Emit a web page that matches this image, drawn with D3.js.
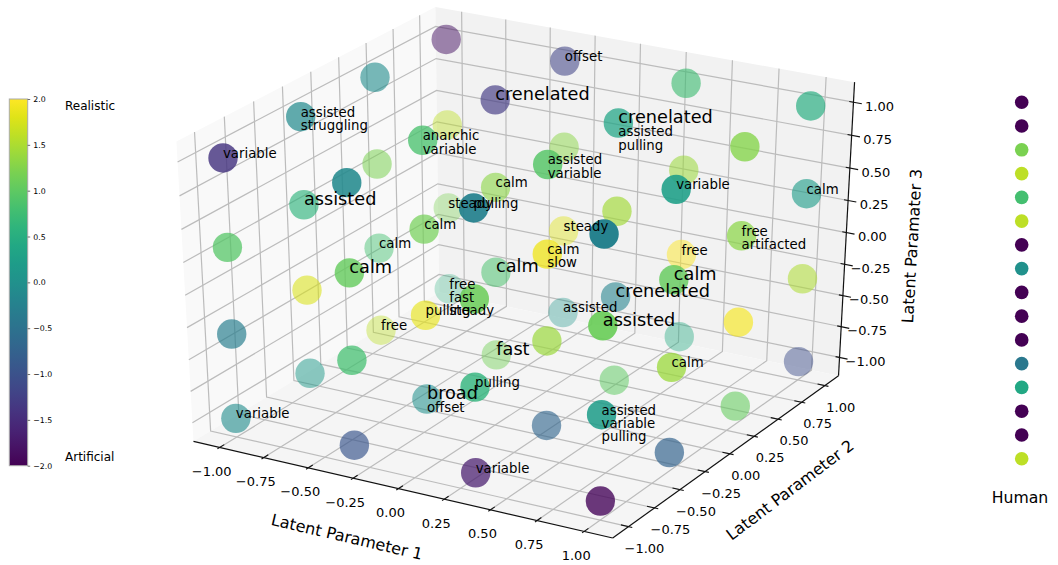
<!DOCTYPE html>
<html><head><meta charset="utf-8">
<script src="https://cdnjs.cloudflare.com/ajax/libs/d3/7.8.5/d3.min.js"></script>
<style>html,body{margin:0;padding:0;background:#fff}svg{display:block}text{font-family:"DejaVu Sans",sans-serif;fill:#000}</style>
</head><body><svg id="c" width="1058" height="565"></svg>
<script>
const levels = [-1, -0.333, 0.333, 1];
const axisTicks = [-1, -0.75, -0.5, -0.25, 0, 0.25, 0.5, 0.75, 1];
const colorbarTicks = [-2, -1.5, -1, -0.5, 0, 0.5, 1, 1.5, 2];
// realism[latent3 level][latent2 level][latent1 level]
const realism = [
  [[-0.05,-0.95,-1.7,-1.95],[0.15,0,-0.7,-0.75],[1.6,1.15,1.0,1.05],[0.55,0.1,0.45,-1.05]],
  [[-0.3,0.8,0.6,0.2],[1.75,1.85,1.4,1.4],[0.8,0.85,-0.2,1.95],[1.2,1.8,2.0,1.5]],
  [[0.95,1.05,1.1,1.1],[0.6,1.15,1.9,1.05],[1.2,1.3,1.45,1.3],[1.6,1.3,1.4,0.2]],
  [[-1.4,-0.1,-0.25,-0.25],[-0.1,0.85,0.95,0.25],[-0.05,-1.3,0.35,1.25],[-1.8,-1.2,0.75,0.5]]
];
// [latent1 level, latent2 level, latent3 level, text, large]
const annotations = [
  [0,1,3,"assisted\nstruggling",0],[0,0,3,"variable",0],[1,2,3,"crenelated",1],[1,1,3,"anarchic\nvariable",0],
  [0,1,2,"assisted",1],[1,2,2,"calm",0],[0,3,1,"steady",0],[2,0,3,"pulling",0],[1,1,2,"calm",0],[0,2,1,"calm",0],
  [1,0,2,"calm",1],[1,2,1,"calm",1],[1,3,3,"offset",0],[2,2,3,"crenelated",1],[2,2,3,"\nassisted\npulling",0],
  [2,1,3,"assisted\nvariable",0],[3,1,3,"variable",0],[3,3,2,"calm",0],[1,3,1,"steady",0],[3,2,2,"free\nartifacted",0],
  [2,1,2,"calm\nslow",0],[2,3,1,"free",0],[3,1,2,"calm",1],[0,3,0,"free\nfast\nsteady",0],[1,1,1,"pulling",0],
  [0,2,0,"free",0],[2,0,1,"pulling",0],[1,1,0,"broad",1],[1,1,0,"\noffset",0],[0,0,0,"variable",0],[2,0,0,"variable",0],
  [2,2,1,"crenelated",1],[1,3,0,"assisted",0],[3,0,2,"assisted",1],[3,1,1,"calm",0],[3,0,1,"assisted\nvariable\npulling",0],
  [1,2,0,"fast",1]
];
const humanRatings = [-2,-2,1.2,1.6,0.8,1.6,-2,0,-2,-2,-2,-0.4,0.4,-2,-2,1.6];
const axisTitles = ["Latent Parameter 1","Latent Parameter 2","Latent Paramater 3"];

const svg = d3.select("#c");
const color = d3.scaleSequential(d3.interpolateViridis).domain([-2,2]);
const LIM = 1.15;
const box = d3.scaleLinear().domain([-LIM,LIM]).range([-0.5,0.5]);
const sx = d3.scaleLinear().domain([-1,1]).range([521-483.9,521+483.9]);
const sy = d3.scaleLinear().domain([-1,1]).range([263.4+342.4,263.4-342.4]);
const el = 30*Math.PI/180, az = -60*Math.PI/180, DIST = 10;
const w = [Math.cos(el)*Math.cos(az),Math.cos(el)*Math.sin(az),Math.sin(el)];
const u = [-Math.sin(az),Math.cos(az),0];
const v = [w[1]*u[2]-w[2]*u[1],w[2]*u[0]-w[0]*u[2],w[0]*u[1]-w[1]*u[0]];
const dot=(a,b)=>a[0]*b[0]+a[1]*b[1]+a[2]*b[2];
function proj(x,y,z){
  const p=[box(x),box(y),box(z)], d=dot(p,w), f=DIST/(DIST-d);
  return {x:sx(dot(p,u)*f),y:sy(dot(p,v)*f),d};
}
const line=d3.line().x(d=>d.x).y(d=>d.y);
const path3=pts=>line(pts.map(p=>proj(...p)));

// panes
const g=svg.append("g");
const L=LIM;
g.append("path").attr("d",path3([[-L,-L,-L],[-L,L,-L],[-L,L,L],[-L,-L,L]])+"Z").attr("fill","#f9f9f9");
g.append("path").attr("d",path3([[-L,L,-L],[L,L,-L],[L,L,L],[-L,L,L]])+"Z").attr("fill","#f2f2f2");
g.append("path").attr("d",path3([[-L,-L,-L],[L,-L,-L],[L,L,-L],[-L,L,-L]])+"Z").attr("fill","#f5f5f5");
// grid
const gridPaths=[];
axisTicks.forEach(t=>{
  gridPaths.push([[t,-L,-L],[t,L,-L],[t,L,L]]);
  gridPaths.push([[-L,t,L],[-L,t,-L],[L,t,-L]]);
  gridPaths.push([[-L,-L,t],[-L,L,t],[L,L,t]]);
});
g.selectAll("path.grid").data(gridPaths).join("path").attr("class","grid")
 .attr("d",path3).attr("fill","none").attr("stroke","#bcbcbc").attr("stroke-width",1.2);
// axes
[[[-L,-L,-L],[L,-L,-L]],[[L,-L,-L],[L,L,-L]],[[L,L,-L],[L,L,L]]].forEach(s=>
  g.append("path").attr("d",path3(s)).attr("stroke","#111").attr("stroke-width",1.2).attr("fill","none"));
const tickFmt=d3.format(".2f");
const tickFont=13;
function tickLabel(x,y,t){
  g.append("text").attr("x",x).attr("y",y).attr("text-anchor","middle").attr("dominant-baseline","central")
   .attr("font-size",tickFont).attr("fill","#000").text(tickFmt(t));
}
axisTicks.forEach(t=>{
  const a=proj(t,-L,-L);
  g.append("path").attr("d",path3([[t,-L-0.02,-L],[t,-L+0.04,-L]])).attr("stroke","#111").attr("stroke-width",1.1);
  tickLabel(a.x-8,a.y+24,t);
  const b=proj(L,t,-L);
  g.append("path").attr("d",path3([[L+0.02,t,-L],[L-0.04,t,-L]])).attr("stroke","#111").attr("stroke-width",1.1);
  tickLabel(b.x+16,b.y+21.5,t);
  const c=proj(L,L,t);
  g.append("path").attr("d",path3([[L+0.044,L,t],[L-0.022,L,t]])).attr("stroke","#111").attr("stroke-width",1.1);
  tickLabel(c.x+26,c.y+4,t);
});
[[347,537,13.1],[790,490,-37],[912,246,-86.7]].forEach((a,i)=>{
  g.append("text").attr("transform",`translate(${a[0]},${a[1]}) rotate(${a[2]})`)
   .attr("text-anchor","middle").attr("dominant-baseline","central").attr("font-size",16).text(axisTitles[i]);
});
// points
const pts=[];
realism.forEach((plane,k)=>plane.forEach((row,j)=>row.forEach((val,i)=>{
  const p=proj(levels[i],levels[j],levels[k]);
  pts.push({...p,val});
})));
const alpha=d3.scaleLinear().domain(d3.extent(pts,d=>d.d)).range([0.3,1]);
svg.append("g").selectAll("circle").data(pts.slice().sort((a,b)=>a.d-b.d)).join("circle")
 .attr("cx",d=>d.x).attr("cy",d=>d.y).attr("r",14.7).attr("fill",d=>color(d.val)).attr("fill-opacity",d=>alpha(d.d));
// annotations
const tg=svg.append("g");
annotations.forEach(([i,j,k,txt,big])=>{
  const p=proj(levels[i],levels[j],levels[k]);
  const t=tg.append("text").attr("x",p.x).attr("y",p.y).attr("font-size",big?17.7:13.3);
  txt.split("\n").forEach((ln,n)=>{
    t.append("tspan").attr("x",p.x).attr("y",p.y+n*13.3).text(ln);
  });
});
// colorbar
const cbY=d3.scaleLinear().domain([-2,2]).range([465.7,99]);
const defs=svg.append("defs");
const grad=defs.append("linearGradient").attr("id","cb").attr("x1",0).attr("x2",0).attr("y1",1).attr("y2",0);
d3.range(0,1.0001,0.05).forEach(s=>grad.append("stop").attr("offset",s).attr("stop-color",d3.interpolateViridis(s)));
svg.append("rect").attr("x",9.3).attr("y",99).attr("width",18.4).attr("height",366.7).attr("fill","url(#cb)").attr("stroke","#aaa").attr("stroke-width",1);
const cbAxis=svg.append("g").attr("transform","translate(27.7,0)")
 .call(d3.axisRight(cbY).tickValues(colorbarTicks).tickSize(2.5).tickPadding(3).tickFormat(d3.format(".1f")));
cbAxis.select(".domain").remove();
cbAxis.selectAll("line").attr("stroke","#333").attr("stroke-width",0.7);
cbAxis.selectAll("text").attr("font-size",7.8).attr("font-family","DejaVu Sans").attr("fill","#222");
svg.append("text").attr("x",65).attr("y",106).attr("dominant-baseline","central").attr("font-size",12).text("Realistic");
svg.append("text").attr("x",65).attr("y",457).attr("dominant-baseline","central").attr("font-size",12).text("Artificial");
// human
const hy=d3.scaleLinear().domain([0,humanRatings.length-1]).range([102.3,458.7]);
svg.append("g").selectAll("circle").data(humanRatings).join("circle")
 .attr("cx",1021.7).attr("cy",(d,i)=>hy(i)).attr("r",6.8).attr("fill",d=>color(d));
svg.append("text").attr("x",1020).attr("y",497).attr("text-anchor","middle").attr("dominant-baseline","central").attr("font-size",15.7).text("Human");
</script></body></html>
